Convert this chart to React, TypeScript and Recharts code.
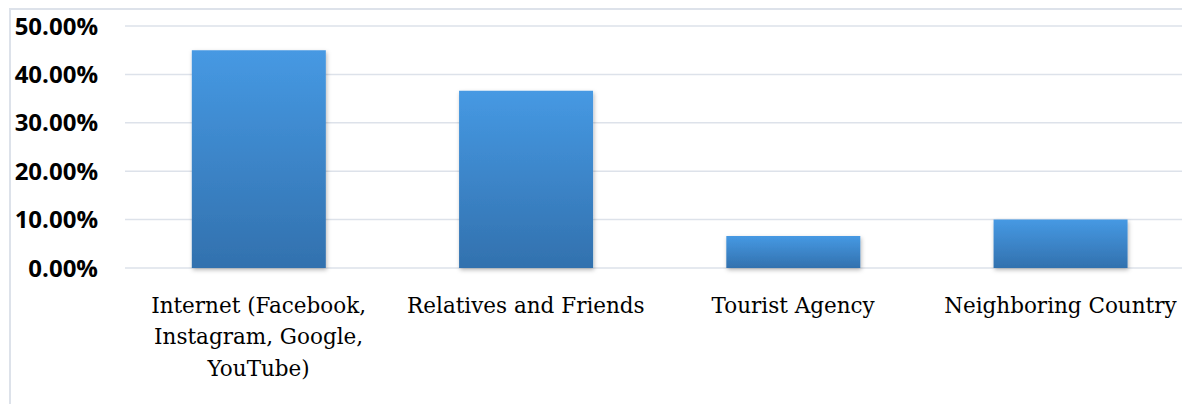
import React from 'react';
import { BarChart, Bar, XAxis, YAxis, CartesianGrid, Rectangle } from 'recharts';

// '\n' marks where the original label wraps
const categories = [
  'Internet (Facebook,\nInstagram, Google,\nYouTube)',
  'Relatives and Friends',
  'Tourist Agency',
  'Neighboring Country',
];
const shares = [45.0, 36.6, 6.6, 10.0];
const yTicks = [0, 10, 20, 30, 40, 50];

const data = categories.map((name, i) => ({ name, share: shares[i] }));

const CategoryTick = (props: any) => {
  const { x, y, payload } = props;
  const lines = String(payload.value).split('\n');
  return (
    <text
      x={x}
      y={y}
      textAnchor="middle"
      fill="#000"
      style={{ fontFamily: '"DejaVu Serif", serif', fontSize: 21.5 }}
    >
      {lines.map((line, i) => (
        <tspan key={i} x={x} dy={i === 0 ? 15.5 : 31.5}>
          {line}
        </tspan>
      ))}
    </text>
  );
};

// bar with a soft drop shadow, like the Excel original
const ShadowBar = (props: any) => (
  <Rectangle {...props} fill="url(#barGrad)" filter="url(#barShadow)" />
);

export default function App() {
  return (
    <div
      style={{
        position: 'fixed',
        left: 0,
        top: 0,
        width: 1182,
        height: 404,
        overflow: 'hidden',
        background: '#fff',
      }}
    >
      <div
        style={{
          position: 'absolute',
          left: 9,
          top: 8,
          right: -5,
          bottom: -5,
          borderLeft: '2px solid #dde2ea',
          borderTop: '2px solid #dde2ea',
        }}
      />
      <div style={{ position: 'absolute', left: 0, top: 0 }}>
        <BarChart
          width={1194}
          height={404}
          data={data}
          margin={{ top: 26, right: 0, left: 0, bottom: 36 }}
          barCategoryGap="25%"
        >
          <defs>
            <linearGradient id="barGrad" x1="0" y1="0" x2="0" y2="1">
              <stop offset="0%" stopColor="#4699e3" />
              <stop offset="100%" stopColor="#3271ae" />
            </linearGradient>
            <filter id="barShadow" x="-10%" y="-10%" width="120%" height="130%">
              <feDropShadow dx="1" dy="2" stdDeviation="2" floodColor="#000" floodOpacity="0.28" />
            </filter>
          </defs>
          <CartesianGrid vertical={false} stroke="#dde2ea" strokeWidth={1.5} />
          <XAxis
            dataKey="name"
            axisLine={false}
            tickLine={false}
            tickSize={0}
            tickMargin={29}
            height={100}
            interval={0}
            tick={<CategoryTick />}
          />
          <YAxis
            width={125}
            domain={[0, 50]}
            ticks={yTicks}
            axisLine={false}
            tickLine={false}
            tickSize={0}
            tickMargin={27}
            tickFormatter={(v: number) => `${v.toFixed(2)}%`}
            tick={{
              fill: '#000',
              fontFamily: '"Open Sans", sans-serif',
              fontWeight: 700,
              fontSize: 24,
            }}
          />
          <Bar dataKey="share" shape={<ShadowBar />} isAnimationActive={false} />
        </BarChart>
      </div>
    </div>
  );
}
